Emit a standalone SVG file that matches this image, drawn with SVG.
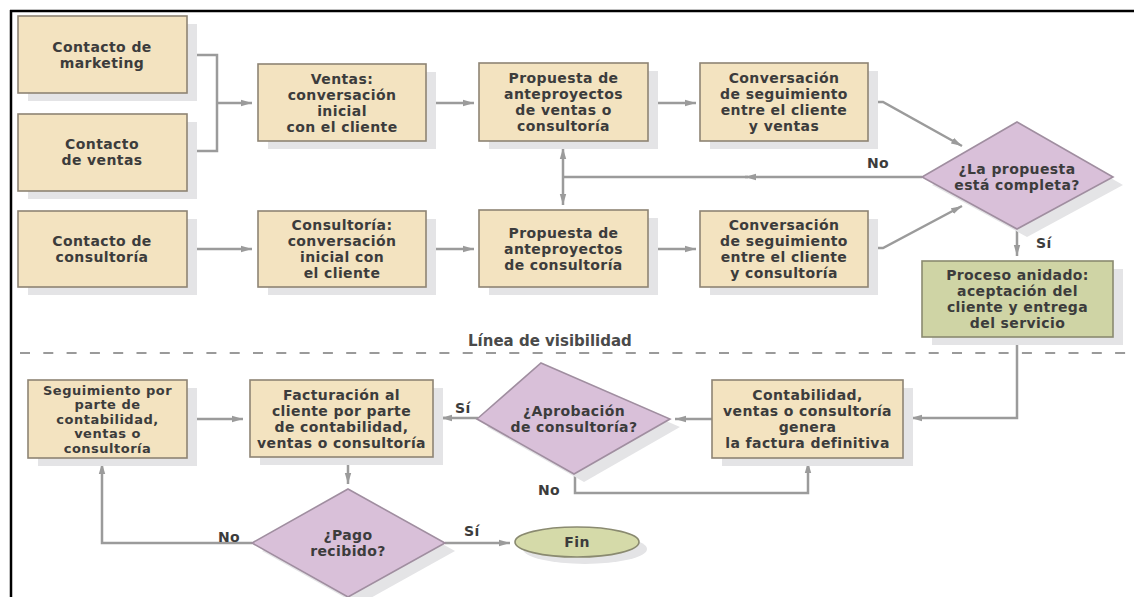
<svg xmlns="http://www.w3.org/2000/svg" width="1134" height="597" viewBox="0 0 1134 597">
<defs>
<style>
.box{fill:#f3e3c0;stroke:#8e8474;stroke-width:1.6}
.green{fill:#cfd4a5;stroke:#8a8a70;stroke-width:1.6}
.dia{fill:#d9c0d9;stroke:#a08ea0;stroke-width:1.6}
.sh{fill:#e4e4e6}
.t{font-family:"DejaVu Sans",sans-serif;font-weight:bold;font-size:14px;letter-spacing:0.4px;fill:#3c3c3c;text-anchor:middle;dominant-baseline:central}
.ts{font-size:13px;letter-spacing:0.5px}
.lbl{font-family:"DejaVu Sans",sans-serif;font-weight:bold;font-size:14px;letter-spacing:0.4px;fill:#3c3c3c;dominant-baseline:central}
.c{fill:none;stroke:#9b9b9b;stroke-width:2.5}
.ca{fill:none;stroke:#9b9b9b;stroke-width:2.5;marker-end:url(#ah)}
</style>
<marker id="ah" markerUnits="userSpaceOnUse" markerWidth="12" markerHeight="8" refX="11" refY="4" orient="auto-start-reverse">
<path d="M0,0.8 L11,4 L0,7.2 z" fill="#9b9b9b"/>
</marker>
</defs>
<rect width="1134" height="597" fill="#ffffff"/>
<path d="M10,11 H1134 M11,10 V597" stroke="#000" stroke-width="2.5" fill="none"/>
<line x1="20" y1="353" x2="1134" y2="353" stroke="#9a9a9a" stroke-width="2" stroke-dasharray="10 13.3"/>
<text class="lbl" x="468" y="341" style="fill:#4a4a4a;font-size:15px;letter-spacing:0">Línea de visibilidad</text>

<g id="connectors">
<path class="c" d="M187,55 H217 V151 H187"/>
<path class="ca" d="M217,103 H252"/>
<path class="ca" d="M187,249 H252"/>
<path class="ca" d="M426,103 H474"/>
<path class="ca" d="M426,249 H474"/>
<path class="ca" d="M648,103 H696"/>
<path class="ca" d="M648,249 H696"/>
<path class="ca" d="M868,102 H883 L962,146"/>
<path class="ca" d="M868,248 H883 L962,206"/>
<path class="ca" d="M922,177 H745"/>
<path class="c" d="M748,177 H563"/>
<path class="ca" d="M563,148 V205" style="marker-start:url(#ah)"/>
<path class="ca" d="M1017,229 V256"/>
<path class="ca" d="M1017,337 V418 H911"/>
<path class="ca" d="M712,419 H675"/>
<path class="ca" d="M575,473 V493 H808 V462"/>
<path class="c" d="M433,418 H445"/>
<path class="ca" d="M478,418 H441"/>
<path class="ca" d="M348,457 V484"/>
<path class="ca" d="M252,543 H102 V463"/>
<path class="ca" d="M187,419 H243"/>
<path class="ca" d="M445,543 H510"/>
<text class="lbl" x="867" y="163">No</text>
<text class="lbl" x="1036" y="243">Sí</text>
<text class="lbl" x="455" y="408">Sí</text>
<text class="lbl" x="538" y="490">No</text>
<text class="lbl" x="218" y="537">No</text>
<text class="lbl" x="464" y="531">Sí</text>
</g>

<g id="n-marketing">
<rect class="sh" x="28" y="24" width="169" height="77"/>
<rect class="box" x="18" y="16" width="169" height="77"/>
<text class="t" x="102" y="46.5">Contacto de</text>
<text class="t" x="102" y="62.5">marketing</text>
</g>
<g id="n-ventas-contacto">
<rect class="sh" x="28" y="122" width="169" height="77"/>
<rect class="box" x="18" y="114" width="169" height="77"/>
<text class="t" x="102" y="144">Contacto</text>
<text class="t" x="102" y="160">de ventas</text>
</g>
<g id="n-consultoria-contacto">
<rect class="sh" x="28" y="219" width="169" height="76"/>
<rect class="box" x="18" y="211" width="169" height="76"/>
<text class="t" x="102" y="241">Contacto de</text>
<text class="t" x="102" y="257">consultoría</text>
</g>
<g id="n-ventas">
<rect class="sh" x="268" y="72" width="168" height="77"/>
<rect class="box" x="258" y="64" width="168" height="77"/>
<text class="t" x="342" y="78.5">Ventas:</text>
<text class="t" x="342" y="94.5">conversación</text>
<text class="t" x="342" y="110.5">inicial</text>
<text class="t" x="342" y="126.5">con el cliente</text>
</g>
<g id="n-consultoria">
<rect class="sh" x="268" y="219" width="168" height="76"/>
<rect class="box" x="258" y="211" width="168" height="76"/>
<text class="t" x="342" y="225">Consultoría:</text>
<text class="t" x="342" y="241">conversación</text>
<text class="t" x="342" y="257">inicial con</text>
<text class="t" x="342" y="273">el cliente</text>
</g>
<g id="n-propuesta-ventas">
<rect class="sh" x="489" y="71" width="169" height="78"/>
<rect class="box" x="479" y="63" width="169" height="78"/>
<text class="t" x="563.5" y="78">Propuesta de</text>
<text class="t" x="563.5" y="94">anteproyectos</text>
<text class="t" x="563.5" y="110">de ventas o</text>
<text class="t" x="563.5" y="126">consultoría</text>
</g>
<g id="n-propuesta-consultoria">
<rect class="sh" x="489" y="218" width="169" height="77"/>
<rect class="box" x="479" y="210" width="169" height="77"/>
<text class="t" x="563.5" y="232.5">Propuesta de</text>
<text class="t" x="563.5" y="248.5">anteproyectos</text>
<text class="t" x="563.5" y="264.5">de consultoría</text>
</g>
<g id="n-seguimiento-ventas">
<rect class="sh" x="710" y="71" width="168" height="78"/>
<rect class="box" x="700" y="63" width="168" height="78"/>
<text class="t" x="784" y="78">Conversación</text>
<text class="t" x="784" y="94">de seguimiento</text>
<text class="t" x="784" y="110">entre el cliente</text>
<text class="t" x="784" y="126">y ventas</text>
</g>
<g id="n-seguimiento-consultoria">
<rect class="sh" x="710" y="219" width="168" height="76"/>
<rect class="box" x="700" y="211" width="168" height="76"/>
<text class="t" x="784" y="225">Conversación</text>
<text class="t" x="784" y="241">de seguimiento</text>
<text class="t" x="784" y="257">entre el cliente</text>
<text class="t" x="784" y="273">y consultoría</text>
</g>
<g id="n-propuesta-completa">
<polygon class="sh" points="1027,130 1123,185 1027,237 932,185"/>
<polygon class="dia" points="1017,122 1113,177 1017,229 922,177"/>
<text class="t" x="1017" y="169">¿La propuesta</text>
<text class="t" x="1017" y="185">está completa?</text>
</g>
<g id="n-proceso-anidado">
<rect class="sh" x="932" y="269" width="191" height="76"/>
<rect class="green" x="922" y="261" width="191" height="76"/>
<text class="t" x="1017.5" y="275">Proceso anidado:</text>
<text class="t" x="1017.5" y="291">aceptación del</text>
<text class="t" x="1017.5" y="307">cliente y entrega</text>
<text class="t" x="1017.5" y="323">del servicio</text>
</g>
<g id="n-contabilidad">
<rect class="sh" x="722" y="388" width="191" height="78"/>
<rect class="box" x="712" y="380" width="191" height="78"/>
<text class="t" x="807.5" y="395">Contabilidad,</text>
<text class="t" x="807.5" y="411">ventas o consultoría</text>
<text class="t" x="807.5" y="427">genera</text>
<text class="t" x="807.5" y="443">la factura definitiva</text>
</g>
<g id="n-aprobacion">
<polygon class="sh" points="551,371 680,427 584,482 487,427"/>
<polygon class="dia" points="541,363 670,419 574,474 477,419"/>
<text class="t" x="574" y="411">¿Aprobación</text>
<text class="t" x="574" y="427">de consultoría?</text>
</g>
<g id="n-facturacion">
<rect class="sh" x="260" y="388" width="183" height="77"/>
<rect class="box" x="250" y="380" width="183" height="77"/>
<text class="t" x="341.5" y="394.5">Facturación al</text>
<text class="t" x="341.5" y="410.5">cliente por parte</text>
<text class="t" x="341.5" y="426.5">de contabilidad,</text>
<text class="t" x="341.5" y="442.5">ventas o consultoría</text>
</g>
<g id="n-seguimiento-contabilidad">
<rect class="sh" x="38" y="388" width="159" height="78"/>
<rect class="box" x="28" y="380" width="159" height="78"/>
<text class="t ts" x="107.5" y="390">Seguimiento por</text>
<text class="t ts" x="107.5" y="404.5">parte de</text>
<text class="t ts" x="107.5" y="419">contabilidad,</text>
<text class="t ts" x="107.5" y="433.5">ventas o</text>
<text class="t ts" x="107.5" y="448">consultoría</text>
</g>
<g id="n-pago">
<polygon class="sh" points="358,497 455,551 358,605 262,551"/>
<polygon class="dia" points="348,489 445,543 348,597 252,543"/>
<text class="t" x="348" y="535">¿Pago</text>
<text class="t" x="348" y="551">recibido?</text>
</g>
<g id="n-fin">
<ellipse class="sh" cx="585" cy="549" rx="62" ry="15"/>
<ellipse class="green" cx="577" cy="542" rx="62" ry="15" style="fill:#d5daa9"/>
<text class="t" x="577" y="542">Fin</text>
</g>
</svg>
